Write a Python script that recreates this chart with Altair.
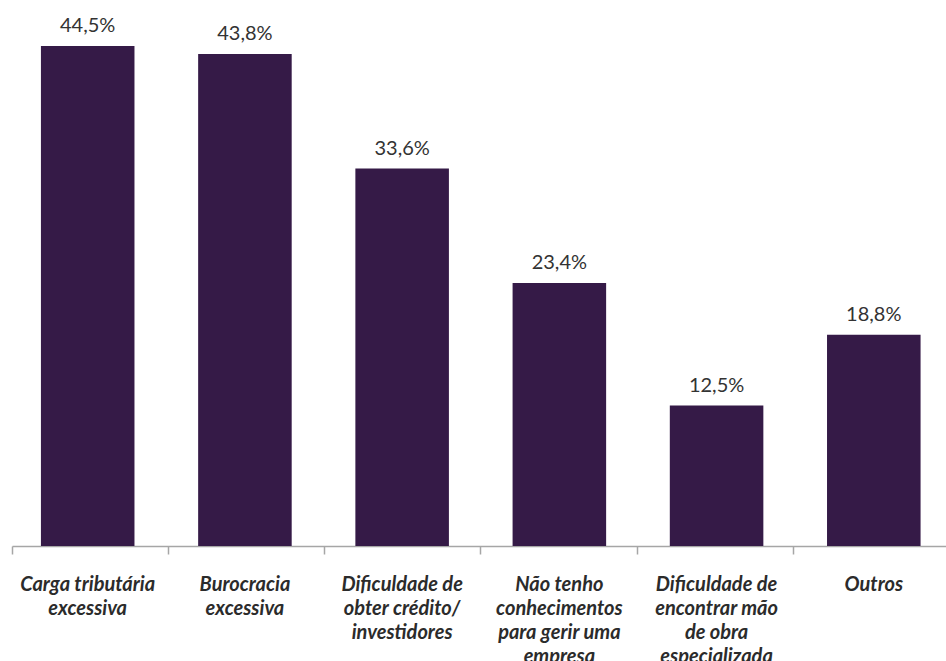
import altair as alt
import pandas as pd

categories = [
    "Carga tributária|excessiva",
    "Burocracia|excessiva",
    "Dificuldade de|obter crédito/|investidores",
    "Não tenho|conhecimentos|para gerir uma|empresa",
    "Dificuldade de|encontrar mão|de obra|especializada",
    "Outros",
]
values = [44.5, 43.8, 33.6, 23.4, 12.5, 18.8]

df = pd.DataFrame({"cat": categories, "value": values})

y = alt.Y("value:Q", scale=alt.Scale(domain=[0, 48.6], nice=False), axis=None)

x_labels = alt.X(
    "cat:N",
    sort=categories,
    title=None,
    scale=alt.Scale(paddingInner=0.405, paddingOuter=0.184, range=[0, 937.5]),
    axis=alt.Axis(
        orient="bottom",
        labelAngle=0,
        labelExpr="split(datum.label, '|')",
        labelFont="Lato",
        labelFontStyle="italic",
        labelFontWeight="bold",
        labelFontSize=20,
        labelLineHeight=24,
        labelColor="#2b2b2b",
        labelPadding=28,
        labelBaseline="top",
        labelLimit=0,
        ticks=False,
        domain=False,
    ),
)

x_ticks = alt.X(
    "cat:N",
    sort=categories,
    title=None,
    scale=alt.Scale(paddingInner=0, paddingOuter=0, range=[0, 937.5]),
    axis=alt.Axis(
        orient="bottom",
        labels=False,
        bandPosition=0,
        domainColor="#a6a6a6",
        domainWidth=1.5,
        tickColor="#a6a6a6",
        tickWidth=1.5,
        tickSize=8,
    ),
)

bars = alt.Chart(df).mark_bar(color="#351a47").encode(x=x_labels, y=y)
text = (
    alt.Chart(df)
    .mark_text(dy=-14, baseline="alphabetic", font="Lato", fontSize=20, color="#333333")
    .transform_calculate(lbl="replace(format(datum.value, '.1f'), '.', ',') + '%'")
    .encode(x=x_labels, y=y, text="lbl:N")
)
axis_layer = alt.Chart(df).mark_bar(opacity=0).encode(x=x_ticks, y=y)

chart = (
    alt.layer(alt.layer(bars, text), axis_layer)
    .resolve_scale(x="independent")
    .properties(
        width=934,
        height=546,
        autosize=alt.AutoSizeParams(type="none"),
        padding={"left": 12, "top": 0, "right": 0, "bottom": 115},
        background="white",
    )
    .configure_view(stroke=None)
)

chart.save("out.html", embed_options={"renderer": "svg", "actions": False})
